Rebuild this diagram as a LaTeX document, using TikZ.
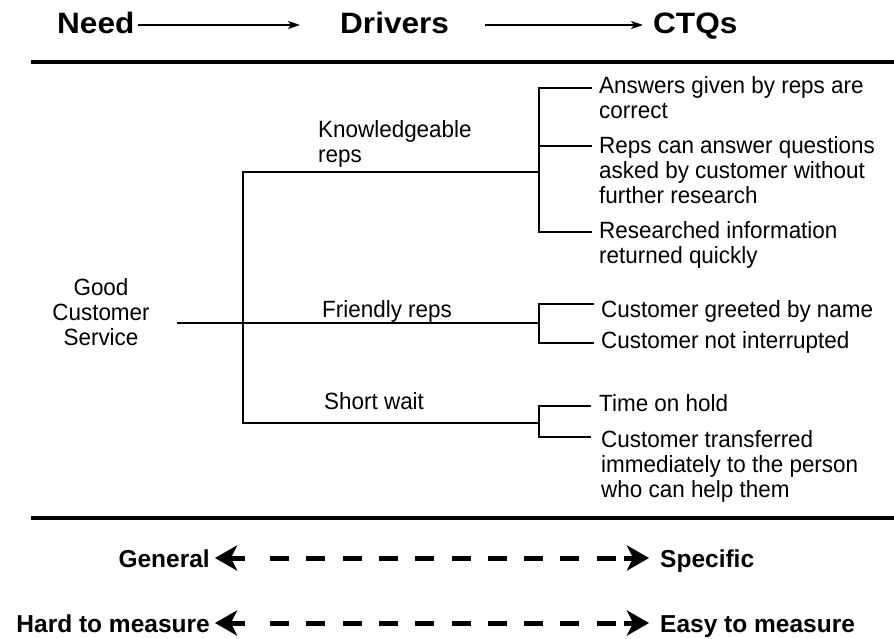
\documentclass[tikz,border=0pt]{standalone}
\usepackage{fontspec}
\setmainfont{Liberation Sans}[FakeStretch=0.955]
\newfontfamily\titlefont{Liberation Sans}[FakeStretch=1.07]
\newfontfamily\axisfont{Liberation Sans}
\usetikzlibrary{arrows.meta}
\newcommand{\mlines}[1]{\begin{tabular}[t]{@{}l@{}}#1\end{tabular}}
\newcommand{\mlinesc}[1]{\begin{tabular}[t]{@{}c@{}}#1\end{tabular}}
\begin{document}
\begin{tikzpicture}[x=1pt,y=-1pt,
  txt/.style={inner sep=0pt, anchor=base west, font=\fontsize{23.5}{25}\selectfont},
  ttl/.style={inner sep=0pt, anchor=base west, font=\titlefont\bfseries\fontsize{29.5}{32}\selectfont},
  axl/.style={inner sep=0pt, font=\axisfont\bfseries\fontsize{24.5}{28}\selectfont},
  branch/.style={line width=1.6pt},
  rulebar/.style={line width=4pt},
  toparrow/.style={line width=1.5pt, -{Stealth[length=12pt,width=8pt,inset=3pt]}},
  dashbar/.style={line width=5pt, dash pattern=on 19pt off 17.3pt},
  bighead/.style={line width=5pt, -{Stealth[length=22pt,width=25pt,inset=6pt]}}]
\useasboundingbox (0,0) rectangle (894,639);

% titles
\node[ttl] (need) at (57,34) {Need};
\node[ttl] (drv) at (340,34) {Drivers};
\node[ttl] (ctq) at (653,34) {CTQs};
\coordinate (a1s) at (138,25); \coordinate (a1e) at (300,25);
\coordinate (a2s) at (485,25); \coordinate (a2e) at (643,25);
\draw[toparrow] (a1s) -- (a1e);
\draw[toparrow] (a2s) -- (a2e);

% rules
\coordinate (r1a) at (31,62); \coordinate (r1b) at (894,62);
\coordinate (r2a) at (31,518); \coordinate (r2b) at (894,518);
\draw[rulebar] (r1a) -- (r1b);
\draw[rulebar] (r2a) -- (r2b);

% need
\node[txt, anchor=base] (gcs) at (101,295) {\mlinesc{Good\\Customer\\Service}};

% drivers
\node[txt] (kr) at (318,138) {\mlines{Knowledgeable\\reps}};
\node[txt] (fr) at (322,317) {Friendly reps};
\node[txt] (sw) at (324,409) {Short wait};

% CTQs
\node[txt] (c1) at (599,94) {\mlines{Answers given by reps are\\correct}};
\node[txt] (c2) at (599,154) {\mlines{Reps can answer questions\\asked by customer without\\further research}};
\node[txt] (c3) at (599,238) {\mlines{Researched information\\returned quickly}};
\node[txt] (c4) at (601,317) {Customer greeted by name};
\node[txt] (c5) at (601,348) {Customer not interrupted};
\node[txt] (c6) at (599,411) {Time on hold};
\node[txt] (c7) at (601,447) {\mlines{Customer transferred\\immediately to the person\\who can help them}};

% tree coordinates
\coordinate (root) at (177,323);
\coordinate (jT) at (243,172);
\coordinate (jB) at (243,423);
\coordinate (bK) at (539,172);
\coordinate (bF) at (539,323);
\coordinate (bS) at (539,423);
\coordinate (k1) at (592,88);  \coordinate (k1v) at (539,88);
\coordinate (k2) at (592,146); \coordinate (k2v) at (539,146);
\coordinate (k3) at (592,232); \coordinate (k3v) at (539,232);
\coordinate (f1) at (594,304); \coordinate (f1v) at (539,304);
\coordinate (f2) at (594,343); \coordinate (f2v) at (539,343);
\coordinate (s1) at (591,406); \coordinate (s1v) at (539,406);
\coordinate (s2) at (591,437); \coordinate (s2v) at (539,437);

\draw[branch] (root) -- (bF);
\draw[branch] (bK) -- (jT) -- (jB) -- (bS);
\draw[branch] (k1) -- (k1v) -- (k3v) -- (k3);
\draw[branch] (k2v) -- (k2);
\draw[branch] (f1) -- (f1v) -- (f2v) -- (f2);
\draw[branch] (s1) -- (s1v) -- (s2v) -- (s2);

% bottom scales
\node[axl, anchor=base east] (gen) at (210,567) {General};
\node[axl, anchor=base west] (spec) at (660,567) {Specific};
\node[axl, anchor=base east] (hard) at (210,632) {Hard to measure};
\node[axl, anchor=base west] (easy) at (660,632) {Easy to measure};

\coordinate (g0) at (245,558); \coordinate (g1) at (215,558);
\coordinate (g2) at (270,558); \coordinate (g3) at (616,558);
\coordinate (g4) at (624,558); \coordinate (g5) at (649,558);
\draw[dashbar] (g2) -- (g3);
\draw[bighead] (g0) -- (g1);
\draw[bighead] (g4) -- (g5);

\coordinate (h0) at (245,623); \coordinate (h1) at (215,623);
\coordinate (h2) at (270,623); \coordinate (h3) at (616,623);
\coordinate (h4) at (624,623); \coordinate (h5) at (649,623);
\draw[dashbar] (h2) -- (h3);
\draw[bighead] (h0) -- (h1);
\draw[bighead] (h4) -- (h5);
\end{tikzpicture}
\end{document}
